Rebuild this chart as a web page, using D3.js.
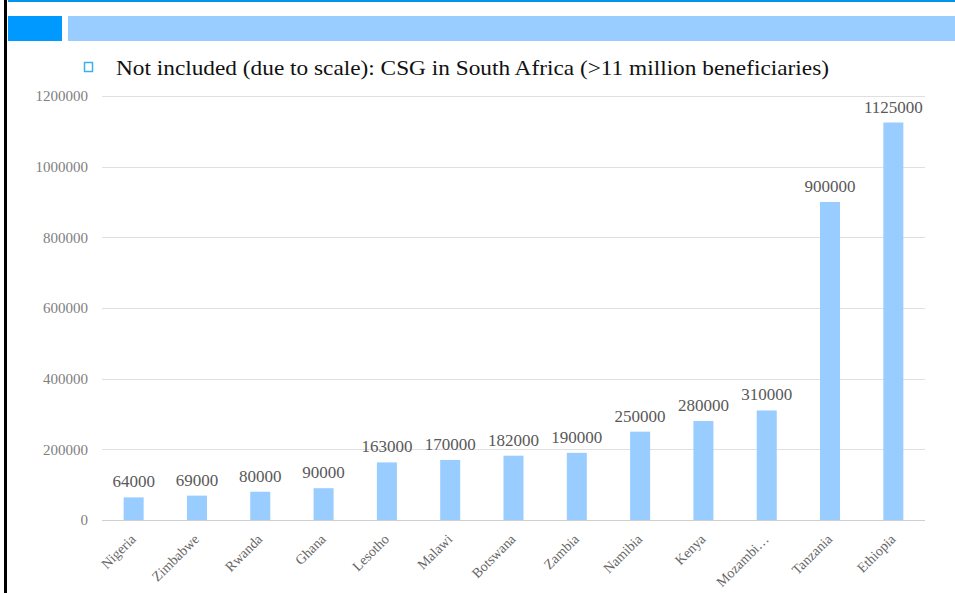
<!DOCTYPE html>
<html>
<head>
<meta charset="utf-8">
<script src="https://cdn.jsdelivr.net/npm/d3@7/dist/d3.min.js"></script>
<style>
  html, body { margin: 0; padding: 0; background: #fff; }
  svg { display: block; }
  svg text { font-family: "Liberation Serif", "Times New Roman", Times, serif; }
</style>
</head>
<body>
<svg id="chart" width="955" height="593"></svg>
<script>
// Beneficiaries of child grant programmes by country
const countries = ["Nigeria", "Zimbabwe", "Rwanda", "Ghana", "Lesotho", "Malawi", "Botswana",
  "Zambia", "Namibia", "Kenya", "Mozambi…", "Tanzania", "Ethiopia"];
const beneficiaries = [64000, 69000, 80000, 90000, 163000, 170000, 182000,
  190000, 250000, 280000, 310000, 900000, 1125000];
const yTicks = [0, 200000, 400000, 600000, 800000, 1000000, 1200000];
const noteText = "Not included (due to scale): CSG in South Africa (>11 million beneficiaries)";

const svg = d3.select("#chart");

// Slide frame: top rule, left rule, header blocks
svg.append("rect").attr("x", 8).attr("y", 0).attr("width", 947).attr("height", 2).attr("fill", "#0096f0");
svg.append("rect").attr("x", 4).attr("y", 0).attr("width", 3).attr("height", 593).attr("fill", "#000");
svg.append("rect").attr("x", 8).attr("y", 16).attr("width", 54).attr("height", 25).attr("fill", "#0099ff");
svg.append("rect").attr("x", 68).attr("y", 16).attr("width", 887).attr("height", 25).attr("fill", "#99ccff");

// Bullet note
svg.append("rect").attr("x", 84.5).attr("y", 62.5).attr("width", 8).attr("height", 9)
  .attr("fill", "#fff").attr("stroke", "#3cb0ec").attr("stroke-width", 1.5);
svg.append("text").attr("x", 116).attr("y", 75)
  .style("font-size", "21px").attr("fill", "#111")
  .attr("textLength", 713).attr("lengthAdjust", "spacingAndGlyphs")
  .text(noteText);

// Plot area
const x = d3.scaleBand().domain(countries).range([102, 925]).paddingInner(0.684).paddingOuter(0.342);
const y = d3.scaleLinear().domain([0, 1200000]).range([520, 96]);

// Grid lines
svg.append("g").selectAll("line").data(yTicks).join("line")
  .attr("x1", 102).attr("x2", 925)
  .attr("y1", d => Math.round(y(d)) + 0.5).attr("y2", d => Math.round(y(d)) + 0.5)
  .attr("stroke", d => d === 0 ? "#d0d0d0" : "#e0e0e0").attr("stroke-width", 1);

// Y axis labels
const yAxis = d3.axisLeft(y).tickValues(yTicks).tickSize(0).tickPadding(0).tickFormat(d3.format("d"));
const yg = svg.append("g").attr("transform", "translate(88,0)").call(yAxis)
  .attr("font-family", null).attr("font-size", null);
yg.select(".domain").remove();
yg.selectAll("text").style("font-size", "15px").attr("fill", "#808080");

// Bars
svg.append("g").selectAll("rect").data(countries).join("rect")
  .attr("x", d => x(d))
  .attr("width", x.bandwidth())
  .attr("y", (d, i) => y(beneficiaries[i]))
  .attr("height", (d, i) => y(0) - y(beneficiaries[i]))
  .attr("fill", "#99ccff");

// Value labels
svg.append("g").selectAll("text").data(countries).join("text")
  .attr("x", d => x(d) + x.bandwidth() / 2)
  .attr("y", (d, i) => y(beneficiaries[i]) - 10)
  .attr("text-anchor", "middle")
  .style("font-size", "17px").attr("fill", "#595959")
  .text((d, i) => beneficiaries[i]);

// Category labels, rotated
const xAxis = d3.axisBottom(x).tickSize(0).tickPadding(0);
const xg = svg.append("g").attr("transform", "translate(0,520)").call(xAxis)
  .attr("font-family", null).attr("font-size", null);
xg.select(".domain").remove();
xg.selectAll("text")
  .style("font-size", "14px").attr("fill", "#666")
  .attr("text-anchor", "end")
  .attr("dy", 0)
  .attr("transform", "translate(3,20) rotate(-45)");
</script>
</body>
</html>
